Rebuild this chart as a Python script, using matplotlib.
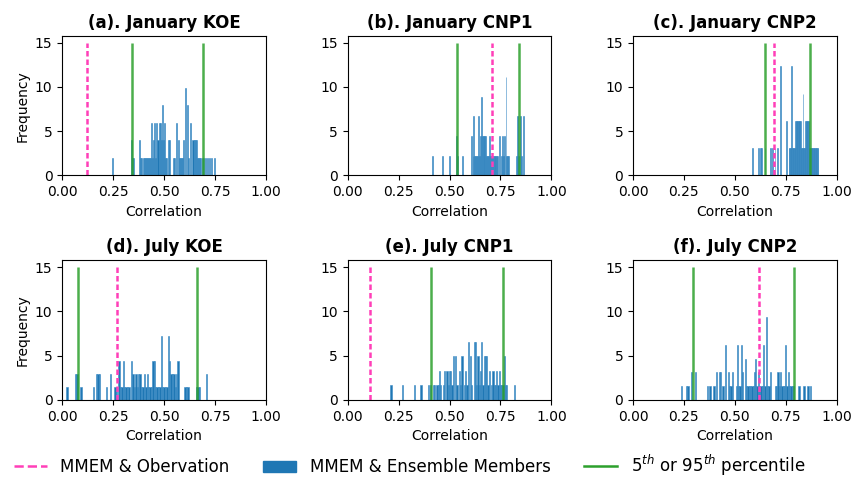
import numpy as np
import matplotlib
matplotlib.use("Agg")
from matplotlib import pyplot as plt
from matplotlib.lines import Line2D
from matplotlib.patches import Patch

# member counts in 100 equal bins between the lowest and highest member correlation
titles = ["(a). January KOE", "(b). January CNP1", "(c). January CNP2",
          "(d). July KOE", "(e). July CNP1", "(f). July CNP2"]

r_min = [0.245, 0.415, 0.585, 0.020, 0.210, 0.234]
r_max = [0.750, 0.865, 0.910, 0.710, 0.820, 0.875]
n_members = 100

jan_koe = [1,0,0,0,0,0,0,0,0,0, 0,0,0,0,0,0,0,0,2,1, 1,0,0,0,0,0,2,1,1,0,
           1,1,1,1,1,1,1,1,3,1, 2,3,1,3,2,3,3,2,4,2, 3,1,1,0,2,2,0,0,0,1,
           1,0,3,0,2,1,1,1,1,2, 0,5,0,4,1,0,3,0,2,2, 2,2,1,1,1,1,0,1,1,0,
           1,0,1,0,1,0,1,0,0,1]
jan_cnp1 = [1,0,0,0,0,0,0,0,0,0, 0,1,0,0,0,0,0,0,1,0, 0,0,0,0,0,0,2,1,0,0,
            0,0,0,1,0,0,0,0,0,0, 0,0,2,0,1,3,1,1,1,1, 3,1,2,4,2,2,2,2,2,1,
            1,1,2,1,1,1,1,1,1,1, 1,1,0,2,0,1,2,1,2,0, 5,1,1,1,0,0,0,0,0,0,
            0,1,3,3,1,0,3,1,0,3]
jan_cnp2 = [1,0,0,0,0,0,0,0,0,1, 0,0,1,0,1,0,0,0,0,1, 0,0,0,0,0,0,0,1,0,0,
            1,0,0,0,1,0,0,0,1,0, 0,0,4,0,0,0,0,0,0,0, 0,2,0,0,0,1,1,1,1,4,
            1,1,1,1,1,2,2,2,2,2, 2,2,2,1,1,1,3,1,1,1, 2,2,2,2,2,2,1,1,1,1,
            1,1,1,1,1,1,1,1,1,1]
jul_koe = [1,0,0,0,0,0,2,2,0,0, 1,0,0,0,0,0,0,0,0,1, 0,2,2,2,0,0,0,0,1,0,
           0,2,0,0,1,1,0,3,1,1, 3,1,1,1,1,0,3,2,1,2, 1,2,2,1,1,2,1,2,1,1,
           1,3,3,1,1,1,1,5,1,1, 1,1,5,3,2,2,2,1,2,3, 0,0,0,0,1,1,1,0,0,0,
           0,0,1,1,1,0,0,0,0,2]
jul_cnp1 = [1,0,0,0,0,0,0,0,0,1, 0,0,0,0,0,0,0,0,0,1, 0,0,0,0,1,0,0,0,0,0,
            1,0,1,0,1,1,0,1,1,2, 1,0,1,2,0,2,1,2,2,1, 3,0,3,1,0,2,1,3,0,1,
            2,1,4,0,3,1,0,4,4,1, 3,1,2,4,1,3,3,3,1,2, 0,1,2,1,1,2,1,2,1,1,
            1,3,1,1,0,0,0,0,0,1]
jul_cnp2 = [1,0,0,0,1,1,0,0,2,0, 0,2,0,0,0,0,0,0,0,0, 1,0,1,0,0,1,0,2,0,2,
            2,0,1,0,4,0,2,1,1,2, 0,0,1,4,1,1,4,2,0,3, 1,1,1,1,1,1,2,3,1,2,
            1,1,1,4,1,6,1,1,2,0, 0,0,1,1,2,1,2,1,1,1, 4,1,2,1,1,1,1,0,0,0,
            1,0,0,0,1,0,0,1,0,1]
counts = [jan_koe, jan_cnp1, jan_cnp2, jul_koe, jul_cnp1, jul_cnp2]

# MMEM vs observation, and 5th / 95th percentile of the members
obs_corr = [0.12, 0.71, 0.69, 0.27, 0.11, 0.62]
pct_5 = [0.34, 0.535, 0.65, 0.075, 0.41, 0.295]
pct_95 = [0.69, 0.843, 0.87, 0.66, 0.76, 0.79]

pink = "#ff3fb8"
blue = "#1f77b4"
green = "#2ca02c"

fig, axes = plt.subplots(2, 3, figsize=(8.53, 4.79), dpi=100)
plt.subplots_adjust(left=0.073, right=0.981, top=0.925, bottom=0.165,
                    wspace=0.40, hspace=0.61)

for i, ax in enumerate(axes.flat):
    edges = np.linspace(r_min[i], r_max[i], 101)
    bin_w = edges[1] - edges[0]
    # density, as hist(density=True) gives for the 100 members
    freq = np.array(counts[i]) / (n_members * bin_w)
    ax.hist(edges[:-1], bins=edges, weights=freq, color=blue,
            edgecolor="#3a8ac4", linewidth=0.4)
    ax.vlines(obs_corr[i], 0, 15, colors=pink, linestyles=(0, (2.2, 1.2)), lw=1.8)
    ax.vlines([pct_5[i], pct_95[i]], 0, 15, colors=green, lw=1.8, alpha=0.85)
    ax.set_xlim(0, 1)
    ax.set_xticks([0, 0.25, 0.5, 0.75, 1.0])
    ax.set_title(titles[i], fontweight="bold", fontsize=12)
    ax.set_xlabel("Correlation")
    if i % 3 == 0:
        ax.set_ylabel("Frequency")

handles = [Line2D([], [], color=pink, ls="--", lw=1.8),
           Patch(color=blue),
           Line2D([], [], color=green, lw=1.8)]
labels = ["MMEM & Obervation", "MMEM & Ensemble Members",
          "5$^{th}$ or 95$^{th}$ percentile"]
fig.legend(handles, labels, loc="lower center", ncol=3, frameon=False,
           fontsize=12, bbox_to_anchor=(0.48, -0.03), columnspacing=2.0)

plt.savefig("out.png", dpi=100)
